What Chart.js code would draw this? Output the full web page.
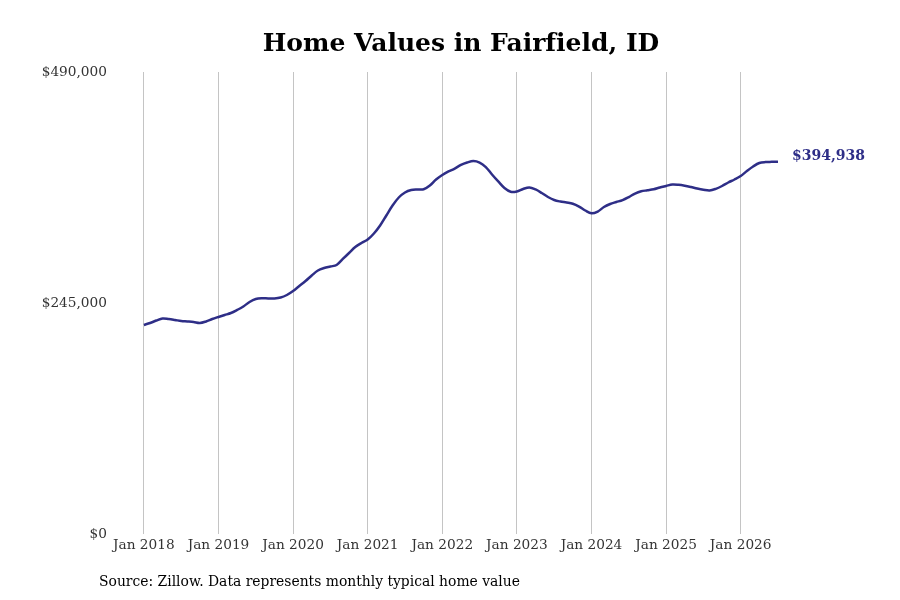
<!DOCTYPE html>
<html>
<head>
<meta charset="utf-8">
<script src="https://cdn.jsdelivr.net/npm/chart.js@4.4.1/dist/chart.umd.min.js"></script>
<style>
html,body{margin:0;padding:0;background:#fff;}
#wrap{width:900px;height:600px;}
</style>
</head>
<body>
<div id="wrap"><canvas id="c" width="900" height="600"></canvas></div>
<script>
// Monthly typical home value, Jan 2018 .. Jul 2026 (month index 0..102)
const startYear = 2018;
const homeValues = [
  221700, 223800, 226400, 228600, 228000, 227000, 225900, 225400, 224800, 223800, 225400, 228000,
  230200, 232300, 234400, 237600, 241300, 246100, 249200, 250000, 249800, 249800, 250800, 253500,
  257700, 263000, 268300, 274200, 279500, 282100, 283700, 285300, 291700, 298000, 304400, 308600,
  312300, 318700, 327200, 337800, 348400, 356900, 362200, 364800, 365400, 365600, 369600, 376000,
  380800, 384500, 387600, 391400, 394000, 395600, 394000, 389200, 381300, 373900, 367000, 363000,
  363300, 365900, 367500, 365400, 361700, 357400, 354200, 352600, 351600, 350300, 347300, 343100,
  340100, 342000, 346800, 350000, 352100, 354200, 357400, 361100, 363500, 364500, 365600, 367500,
  369100, 370700, 370400, 369400, 368000, 366400, 365100, 364300, 366100, 369100, 372800, 376000,
  379700, 385000, 389800, 393500, 394500, 394700, 394938
];
const monthIndex = homeValues.map((v, i) => i);
const xTickMonths = [0, 12, 24, 36, 48, 60, 72, 84, 96];
const xTickLabels = ['Jan 2018','Jan 2019','Jan 2020','Jan 2021','Jan 2022','Jan 2023','Jan 2024','Jan 2025','Jan 2026'];
const yTicks = [0, 245000, 490000];
const titleText = 'Home Values in Fairfield, ID';
const sourceText = 'Source: Zillow. Data represents monthly typical home value';
const lastLabel = '$394,938';

const lineColor = '#2e2e87';
const serif = "'DejaVu Serif', serif";

const overlay = {
  id: 'overlay',
  afterDraw(chart) {
    const ctx = chart.ctx;
    ctx.save();
    try { ctx.textRendering = 'optimizeSpeed'; } catch (e) {}
    ctx.fillStyle = '#000';
    ctx.font = "bold 25px " + serif;
    ctx.textAlign = 'center';
    ctx.textBaseline = 'middle';
    ctx.fillText(titleText, 461, 44);
    ctx.font = "13.9px " + serif;
    ctx.textAlign = 'left';
    ctx.fillText(sourceText, 99, 582);
    const meta = chart.getDatasetMeta(0);
    const pt = meta.data[meta.data.length - 1];
    ctx.fillStyle = lineColor;
    ctx.font = "bold 14px " + serif;
    ctx.fillText(lastLabel, pt.x + 14, pt.y - 5);
    ctx.restore();
  }
};

new Chart(document.getElementById('c'), {
  type: 'line',
  data: {
    datasets: [{
      data: monthIndex.map((m, i) => ({x: m, y: homeValues[i]})),
      borderColor: lineColor,
      borderWidth: 2.5,
      pointRadius: 0,
      tension: 0.35,
      fill: false
    }]
  },
  options: {
    responsive: false,
    animation: false,
    layout: { padding: { top: 72, right: 122, bottom: 36, left: 0 } },
    plugins: { legend: { display: false }, title: { display: false }, tooltip: { enabled: false } },
    scales: {
      x: {
        type: 'linear',
        min: -4,
        max: 102,
        afterBuildTicks: s => { s.ticks = xTickMonths.map(v => ({value: v})); },
        afterFit: s => { s.height = 30; },
        ticks: {
          callback: (v) => xTickLabels[xTickMonths.indexOf(v)],
          font: { family: serif, size: 13.7 },
          color: '#333',
          padding: 3,
          maxRotation: 0,
          autoSkip: false
        },
        grid: { display: true, color: '#c4c4c4', lineWidth: 1, drawTicks: false },
        border: { display: false }
      },
      y: {
        min: 0,
        max: 490000,
        afterBuildTicks: s => { s.ticks = yTicks.map(v => ({value: v})); },
        afterFit: s => { s.width = 119; },
        ticks: {
          callback: v => '$' + v.toLocaleString('en-US'),
          font: { family: serif, size: 13.7 },
          color: '#333',
          padding: 12
        },
        grid: { display: false, drawTicks: false },
        border: { display: false }
      }
    }
  },
  plugins: [overlay]
});
</script>
</body>
</html>
